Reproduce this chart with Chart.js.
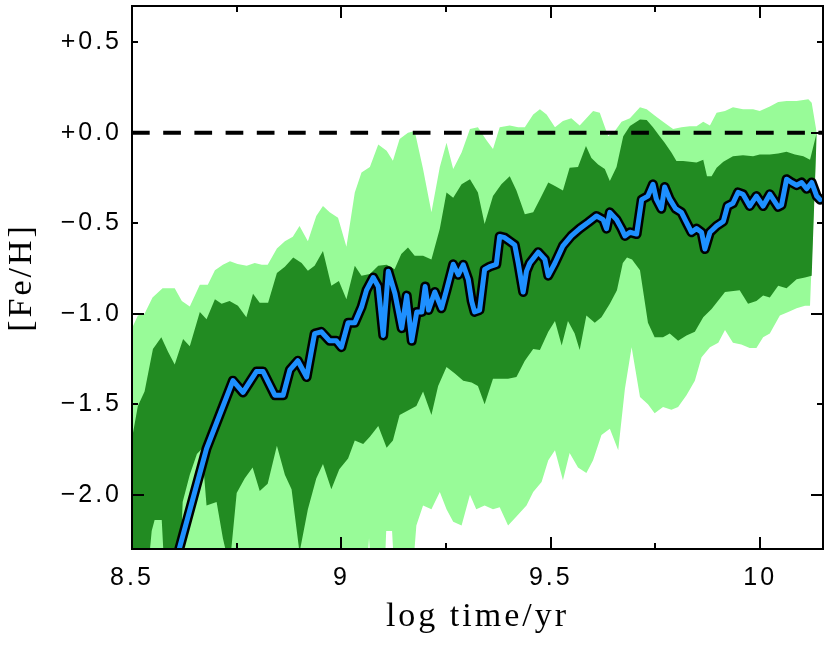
<!DOCTYPE html>
<html>
<head>
<meta charset="utf-8">
<script src="https://cdn.jsdelivr.net/npm/chart.js@4.4.1/dist/chart.umd.min.js"></script>
<style>
  html, body { margin: 0; padding: 0; background: #fff; }
  #wrap { width: 830px; height: 645px; position: relative; }
  #frameLayer { position: absolute; left: 0; top: 0; width: 830px; height: 645px; pointer-events: none; }
  #frameLayer div { position: absolute; background: #000; }
</style>
</head>
<body>
<div id="wrap"><canvas id="feChart" width="830" height="645"></canvas><div id="frameLayer"></div></div>
<script>
// outer (light) envelope, upper edge
const lightHiX = [8.500, 8.514, 8.530, 8.549, 8.573, 8.602, 8.619, 8.638, 8.662, 8.681, 8.698, 8.717, 8.734, 8.752, 8.774, 8.793, 8.810, 8.824, 8.846, 8.865, 8.884, 8.900, 8.920, 8.940, 8.956, 8.972, 8.992, 9.012, 9.032, 9.048, 9.068, 9.088, 9.108, 9.123, 9.139, 9.159, 9.175, 9.195, 9.215, 9.235, 9.251, 9.267, 9.287, 9.307, 9.326, 9.346, 9.362, 9.378, 9.402, 9.422, 9.438, 9.458, 9.474, 9.490, 9.510, 9.529, 9.549, 9.569, 9.585, 9.601, 9.617, 9.637, 9.653, 9.669, 9.689, 9.713, 9.729, 9.748, 9.768, 9.792, 9.812, 9.832, 9.848, 9.864, 9.880, 9.896, 9.916, 9.935, 9.959, 9.983, 9.999, 10.023, 10.043, 10.063, 10.087, 10.115, 10.123, 10.135];
const lightHiY = [-1.08, -1.01, -1.00, -0.91, -0.86, -0.86, -0.93, -0.96, -0.84, -0.84, -0.76, -0.73, -0.71, -0.725, -0.735, -0.72, -0.73, -0.73, -0.64, -0.60, -0.575, -0.515, -0.60, -0.46, -0.405, -0.44, -0.47, -0.63, -0.33, -0.22, -0.19, -0.065, -0.10, -0.155, -0.035, 0.00, 0.01, -0.20, -0.44, -0.19, -0.055, -0.20, -0.11, 0.02, 0.03, -0.04, -0.09, 0.03, 0.04, 0.03, 0.03, 0.10, 0.13, 0.10, 0.03, 0.065, 0.08, 0.04, 0.08, 0.12, 0.11, -0.02, 0.01, 0.06, 0.08, 0.14, 0.13, 0.095, 0.06, 0.02, 0.03, 0.035, 0.035, 0.06, 0.04, 0.11, 0.12, 0.14, 0.13, 0.13, 0.12, 0.145, 0.17, 0.175, 0.175, 0.185, 0.165, 0.0];

// inner (dark) envelope, upper edge
const darkHiX = [8.500, 8.514, 8.530, 8.550, 8.570, 8.586, 8.602, 8.622, 8.638, 8.662, 8.678, 8.698, 8.714, 8.733, 8.753, 8.773, 8.789, 8.805, 8.825, 8.846, 8.865, 8.885, 8.905, 8.920, 8.936, 8.956, 8.976, 8.994, 9.012, 9.032, 9.048, 9.068, 9.088, 9.108, 9.127, 9.143, 9.159, 9.175, 9.195, 9.215, 9.235, 9.251, 9.267, 9.287, 9.307, 9.326, 9.342, 9.362, 9.382, 9.402, 9.418, 9.438, 9.458, 9.474, 9.494, 9.510, 9.529, 9.545, 9.565, 9.584, 9.597, 9.613, 9.629, 9.641, 9.657, 9.673, 9.689, 9.713, 9.729, 9.744, 9.760, 9.772, 9.788, 9.800, 9.816, 9.832, 9.848, 9.864, 9.873, 9.884, 9.896, 9.912, 9.935, 9.959, 9.983, 9.999, 10.023, 10.043, 10.063, 10.083, 10.103, 10.119, 10.135];
const darkHiY = [-1.69, -1.51, -1.43, -1.195, -1.13, -1.21, -1.28, -1.14, -1.18, -0.99, -1.03, -0.92, -0.945, -0.93, -0.956, -1.02, -0.89, -0.94, -0.94, -0.775, -0.74, -0.69, -0.72, -0.763, -0.735, -0.653, -0.846, -0.82, -0.92, -0.735, -0.79, -0.78, -0.735, -0.73, -0.755, -0.67, -0.634, -0.68, -0.68, -0.70, -0.53, -0.33, -0.36, -0.285, -0.257, -0.33, -0.505, -0.35, -0.285, -0.24, -0.32, -0.45, -0.44, -0.367, -0.275, -0.295, -0.32, -0.193, -0.19, -0.074, -0.14, -0.175, -0.20, -0.267, -0.19, -0.019, 0.037, 0.073, 0.07, 0.03, -0.019, -0.055, -0.11, -0.157, -0.157, -0.16, -0.165, -0.15, -0.24, -0.24, -0.193, -0.16, -0.13, -0.125, -0.13, -0.12, -0.12, -0.115, -0.105, -0.12, -0.13, -0.15, 0.0];

// inner (dark) envelope, lower edge
const darkLoX = [8.500, 8.537, 8.547, 8.554, 8.571, 8.578, 8.614, 8.621, 8.638, 8.655, 8.667, 8.678, 8.702, 8.717, 8.733, 8.750, 8.769, 8.788, 8.805, 8.824, 8.846, 8.865, 8.881, 8.900, 8.920, 8.940, 8.956, 8.976, 8.995, 9.016, 9.032, 9.052, 9.068, 9.088, 9.108, 9.123, 9.139, 9.159, 9.179, 9.195, 9.215, 9.231, 9.251, 9.271, 9.291, 9.311, 9.326, 9.342, 9.362, 9.378, 9.398, 9.418, 9.438, 9.458, 9.474, 9.494, 9.510, 9.526, 9.541, 9.557, 9.569, 9.585, 9.605, 9.621, 9.641, 9.658, 9.672, 9.682, 9.694, 9.713, 9.732, 9.748, 9.768, 9.784, 9.804, 9.824, 9.844, 9.864, 9.884, 9.916, 9.951, 9.971, 9.991, 10.007, 10.023, 10.043, 10.063, 10.087, 10.107, 10.123, 10.135];
const darkLoY = [-2.45, -2.45, -2.20, -2.14, -2.14, -2.45, -2.45, -2.04, -1.89, -1.775, -1.746, -2.06, -2.04, -2.24, -2.40, -1.99, -1.91, -1.85, -1.98, -1.94, -1.73, -1.89, -1.97, -2.32, -2.08, -1.91, -1.83, -1.97, -1.86, -1.80, -1.70, -1.72, -1.68, -1.62, -1.74, -1.70, -1.56, -1.535, -1.51, -1.43, -1.56, -1.40, -1.295, -1.33, -1.37, -1.38, -1.40, -1.50, -1.36, -1.36, -1.36, -1.35, -1.26, -1.195, -1.20, -1.10, -1.04, -1.176, -1.04, -1.11, -1.20, -1.01, -1.05, -1.02, -0.945, -0.87, -0.72, -0.69, -0.70, -0.76, -1.05, -1.13, -1.13, -1.11, -1.15, -1.12, -1.10, -1.02, -0.974, -0.88, -0.87, -0.945, -0.93, -0.90, -0.91, -0.846, -0.86, -0.81, -0.80, -0.79, 0.0];

// outer (light) envelope, lower edge
const lightLoX = [8.500, 9.058, 9.066, 9.073, 9.102, 9.107, 9.121, 9.128, 9.168, 9.179, 9.195, 9.215, 9.235, 9.251, 9.267, 9.287, 9.307, 9.322, 9.342, 9.362, 9.378, 9.398, 9.418, 9.442, 9.458, 9.478, 9.494, 9.510, 9.529, 9.545, 9.565, 9.585, 9.601, 9.621, 9.641, 9.661, 9.677, 9.693, 9.713, 9.732, 9.748, 9.768, 9.788, 9.804, 9.824, 9.844, 9.860, 9.880, 9.900, 9.916, 9.935, 9.955, 9.975, 9.991, 10.007, 10.023, 10.047, 10.067, 10.087, 10.107, 10.119, 10.135];
const lightLoY = [-2.50, -2.50, -2.24, -2.50, -2.50, -2.20, -2.20, -2.50, -2.50, -2.17, -2.06, -2.08, -1.985, -2.08, -2.15, -2.17, -2.00, -2.08, -2.06, -2.08, -2.07, -2.17, -2.12, -2.06, -1.985, -1.93, -1.81, -1.755, -1.92, -1.77, -1.85, -1.88, -1.81, -1.67, -1.635, -1.755, -1.415, -1.185, -1.46, -1.50, -1.55, -1.516, -1.53, -1.516, -1.45, -1.37, -1.24, -1.185, -1.16, -1.09, -1.16, -1.17, -1.19, -1.19, -1.13, -1.11, -1.01, -0.99, -0.97, -0.956, -0.956, 0.0];

// median track
const medianX = [8.581, 8.614, 8.678, 8.741, 8.765, 8.797, 8.813, 8.841, 8.861, 8.877, 8.896, 8.917, 8.936, 8.952, 8.972, 8.988, 9.000, 9.016, 9.032, 9.048, 9.060, 9.076, 9.088, 9.100, 9.112, 9.128, 9.144, 9.156, 9.168, 9.180, 9.192, 9.200, 9.208, 9.223, 9.239, 9.251, 9.267, 9.279, 9.291, 9.303, 9.311, 9.318, 9.330, 9.342, 9.354, 9.370, 9.378, 9.390, 9.402, 9.414, 9.422, 9.434, 9.442, 9.450, 9.470, 9.486, 9.494, 9.510, 9.529, 9.549, 9.569, 9.589, 9.609, 9.625, 9.633, 9.641, 9.657, 9.669, 9.677, 9.689, 9.705, 9.717, 9.732, 9.744, 9.752, 9.764, 9.772, 9.784, 9.798, 9.812, 9.824, 9.836, 9.848, 9.860, 9.868, 9.880, 9.896, 9.912, 9.922, 9.935, 9.947, 9.959, 9.975, 9.991, 10.007, 10.023, 10.043, 10.051, 10.063, 10.075, 10.087, 10.099, 10.111, 10.123, 10.135, 10.143];
const medianY = [-2.58, -2.29, -1.745, -1.37, -1.435, -1.32, -1.32, -1.45, -1.45, -1.31, -1.26, -1.35, -1.11, -1.10, -1.15, -1.15, -1.185, -1.05, -1.05, -0.965, -0.87, -0.80, -0.85, -1.12, -0.765, -0.89, -1.08, -0.90, -1.15, -0.99, -0.99, -0.85, -0.98, -0.88, -0.97, -0.87, -0.727, -0.785, -0.73, -0.81, -0.93, -0.99, -0.98, -0.756, -0.74, -0.727, -0.573, -0.58, -0.60, -0.62, -0.717, -0.88, -0.765, -0.72, -0.66, -0.70, -0.79, -0.72, -0.625, -0.57, -0.53, -0.496, -0.46, -0.48, -0.53, -0.44, -0.48, -0.53, -0.57, -0.55, -0.56, -0.37, -0.35, -0.285, -0.367, -0.42, -0.30, -0.367, -0.42, -0.44, -0.496, -0.55, -0.53, -0.55, -0.643, -0.55, -0.515, -0.49, -0.405, -0.39, -0.33, -0.34, -0.405, -0.35, -0.405, -0.34, -0.41, -0.40, -0.257, -0.275, -0.29, -0.275, -0.31, -0.275, -0.35, -0.37];

const solarLevel = 0;

// axes
const xRange = [8.5, 10.15];
const yRange = [-2.3, 0.7];
const xTickValues = [8.5, 9, 9.5, 10];
const xTickLabels = ["8.5", "9", "9.5", "10"];
const xMinorTicks = [8.75, 9.25, 9.75];
const yTickValues = [-2, -1.5, -1, -0.5, 0, 0.5];
const yTickLabels = ["\u22122.0", "\u22121.5", "\u22121.0", "\u22120.5", "+0.0", "+0.5"];
const yMajorTicks = [-2, -1, 0];
const yMinorTicks = [-1.5, -0.5, 0.5];

const pts = (xs, ys) => xs.map((x, i) => ({ x: x, y: ys[i] }));

const tickFont = { family: "'Liberation Sans', Arial, sans-serif", size: 25 };
const titleFont = { family: "'Liberation Serif', 'Times New Roman', serif", size: 34, lineHeight: 1.2 };
const noPad = s => { s.paddingTop = 0; s.paddingBottom = 0; s.paddingLeft = 0; s.paddingRight = 0; };

// PGPLOT-like spaced lettering
const lettering = {
  id: "lettering",
  beforeDraw(chart) { chart.ctx.letterSpacing = "3px"; }
};

const chart = new Chart(document.getElementById("feChart").getContext("2d"), {
  type: "line",
  data: {
    datasets: [
      {
        label: "median",
        data: pts(medianX, medianY),
        borderColor: "#1E90FF",
        borderWidth: 5,
        borderJoinStyle: "round",
        borderCapStyle: "round",
        pointRadius: 0,
        fill: false,
        clip: 0
      },
      {
        label: "median outline",
        data: pts(medianX, medianY),
        borderColor: "#000",
        borderWidth: 10,
        borderJoinStyle: "round",
        borderCapStyle: "round",
        pointRadius: 0,
        fill: false,
        clip: 0
      },
      {
        label: "solar",
        data: pts(xRange, [solarLevel, solarLevel]),
        borderColor: "#000",
        borderWidth: 4,
        borderDash: [17.7, 13.5],
        pointRadius: 0,
        fill: false,
        clip: 0
      },
      {
        label: "inner high",
        data: pts(darkHiX, darkHiY),
        borderWidth: 0,
        borderColor: "transparent",
        backgroundColor: "#228B22",
        pointRadius: 0,
        fill: 4
      },
      {
        label: "inner low",
        data: pts(darkLoX, darkLoY),
        borderWidth: 0,
        borderColor: "transparent",
        pointRadius: 0,
        fill: false
      },
      {
        label: "outer high",
        data: pts(lightHiX, lightHiY),
        borderWidth: 0,
        borderColor: "transparent",
        backgroundColor: "#98FB98",
        pointRadius: 0,
        fill: 6
      },
      {
        label: "outer low",
        data: pts(lightLoX, lightLoY),
        borderWidth: 0,
        borderColor: "transparent",
        pointRadius: 0,
        fill: false
      }
    ]
  },
  options: {
    responsive: false,
    animation: false,
    devicePixelRatio: 1,
    layout: { padding: { left: 0, right: 7, top: 6, bottom: 0 } },
    plugins: {
      legend: { display: false },
      tooltip: { enabled: false }
    },
    scales: {
      x: {
        type: "linear",
        min: xRange[0],
        max: xRange[1],
        grid: { display: false, drawTicks: false },
        border: { display: false },
        afterBuildTicks: s => { s.ticks = xTickValues.map(v => ({ value: v })); },
        afterFit: s => { s.height = 96; noPad(s); },
        ticks: {
          font: tickFont,
          color: "#000",
          padding: 14,
          maxRotation: 0,
          callback: (v, i) => xTickLabels[i]
        },
        title: {
          display: true,
          text: "log time/yr",
          font: titleFont,
          color: "#000",
          padding: { top: 0, bottom: 8 }
        }
      },
      y: {
        type: "linear",
        min: yRange[0],
        max: yRange[1],
        grid: { display: false, drawTicks: false },
        border: { display: false },
        afterBuildTicks: s => { s.ticks = yTickValues.map(v => ({ value: v })); },
        afterFit: s => { s.width = 132; noPad(s); },
        ticks: {
          font: tickFont,
          color: "#000",
          padding: 10,
          callback: (v, i) => yTickLabels[i]
        },
        title: {
          display: true,
          text: "[Fe/H]",
          font: titleFont,
          color: "#000",
          padding: { top: 2, bottom: 0 }
        }
      }
    }
  },
  plugins: [lettering]
});

// box and inward ticks as a thin overlay, placed from the chart's own area and scales
try {
  const layer = document.getElementById("frameLayer");
  const a = chart.chartArea;
  const xs = chart.scales.x, ys = chart.scales.y;
  const bar = (left, top, w, h) => {
    const d = document.createElement("div");
    d.style.left = left + "px"; d.style.top = top + "px";
    d.style.width = w + "px"; d.style.height = h + "px";
    layer.appendChild(d);
  };
  const w = a.right - a.left, h = a.bottom - a.top;
  bar(a.left - 1, a.top - 1, w + 2, 2);
  bar(a.left - 1, a.bottom - 1, w + 2, 2);
  bar(a.left - 1, a.top - 1, 2, h + 2);
  bar(a.right - 1, a.top - 1, 2, h + 2);
  const xMark = (v, len) => {
    const p = xs.getPixelForValue(v);
    bar(p - 1, a.bottom - len, 2, len);
    bar(p - 1, a.top, 2, len);
  };
  const yMark = (v, len) => {
    const p = ys.getPixelForValue(v);
    bar(a.left, p - 1, len, 2);
    bar(a.right - len, p - 1, len, 2);
  };
  xTickValues.forEach(v => xMark(v, 12));
  xMinorTicks.forEach(v => xMark(v, 6));
  yMajorTicks.forEach(v => yMark(v, 12));
  yMinorTicks.forEach(v => yMark(v, 6));
} catch (e) { /* overlay is decoration only */ }
</script>
</body>
</html>
